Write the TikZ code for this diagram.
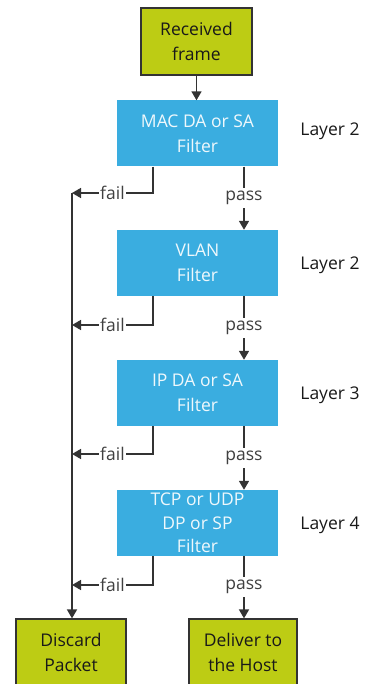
\documentclass[tikz,border=0pt]{standalone}
\usepackage{fontspec}
\setmainfont{Open Sans}
\usetikzlibrary{arrows.meta}
\definecolor{boxgreen}{HTML}{BDCC14}
\definecolor{boxblue}{HTML}{3AADE0}
\definecolor{linegray}{HTML}{333333}

\begin{document}
\begin{tikzpicture}[x=1pt,y=-1pt,font=\fontsize{17.5}{25}\selectfont,
  endbox/.style={draw=black!80,line width=1.2pt,fill=boxgreen,text=black!90,align=center,minimum height=67pt,inner sep=0pt},
  filterbox/.style={fill=boxblue,text=white!92!boxblue,align=center,minimum width=161pt,minimum height=66pt,inner sep=0pt},
  layerlbl/.style={text=black!90},
  flow/.style={draw=linegray,line width=1.6pt,-{Triangle[length=9pt,width=10pt]}},
  tag/.style={fill=white,inner sep=1pt,text=black!75}]
\useasboundingbox (0,0) rectangle (372,684);

\node[endbox,minimum width=111pt] (recv) at (196.5,41.5) {Received\\frame};
\node[filterbox] (macf) at (197.5,133.5) {MAC DA or SA\\Filter};
\node[filterbox] (vlanf) at (197.5,263) {VLAN\\Filter};
\node[filterbox] (ipf) at (197.5,393) {IP DA or SA\\Filter};
\node[filterbox,font=\fontsize{17.5}{23.5}\selectfont] (tcpf) at (197.5,523) {TCP or UDP\\DP or SP\\Filter};
\node[endbox,minimum width=110pt] (discard) at (71,652.5) {Discard\\Packet};
\node[endbox,minimum width=108pt] (deliver) at (243,652.5) {Deliver to\\the Host};

\node[layerlbl] (lay2a) at (330,131) {Layer 2};
\node[layerlbl] (lay2b) at (330,265) {Layer 2};
\node[layerlbl] (lay3) at (330,395) {Layer 3};
\node[layerlbl] (lay4) at (330,525) {Layer 4};

\coordinate (f1) at (72,193);
\coordinate (f2) at (72,325);
\coordinate (f3) at (72,454);
\coordinate (f4) at (72,585);

\draw[flow] (recv.south) -- (recv.south |- macf.north);
\draw[flow] ([xshift=46.5pt]macf.south) -- ([xshift=46.5pt]vlanf.north) node[tag,midway,inner sep=3pt] {pass};
\draw[flow] ([xshift=46.5pt]vlanf.south) -- ([xshift=46.5pt]ipf.north) node[tag,midway,inner sep=3pt] {pass};
\draw[flow] ([xshift=46.5pt]ipf.south) -- ([xshift=46.5pt]tcpf.north) node[tag,midway,inner sep=3pt] {pass};
\draw[flow] ([xshift=46.5pt]tcpf.south) -- ([xshift=46.5pt]tcpf.south |- deliver.north) node[tag,midway,inner sep=3pt] {pass};

\draw[flow] ([xshift=-44.5pt]macf.south) |- (f1) node[tag,pos=0.75] {fail};
\draw[flow] ([xshift=-44.5pt]vlanf.south) |- (f2) node[tag,pos=0.75] {fail};
\draw[flow] ([xshift=-44.5pt]ipf.south) |- (f3) node[tag,pos=0.75] {fail};
\draw[flow] ([xshift=-44.5pt]tcpf.south) |- (f4) node[tag,pos=0.75] {fail};
\draw[flow] (f1) -- (f1 |- discard.north);
\end{tikzpicture}
\end{document}
